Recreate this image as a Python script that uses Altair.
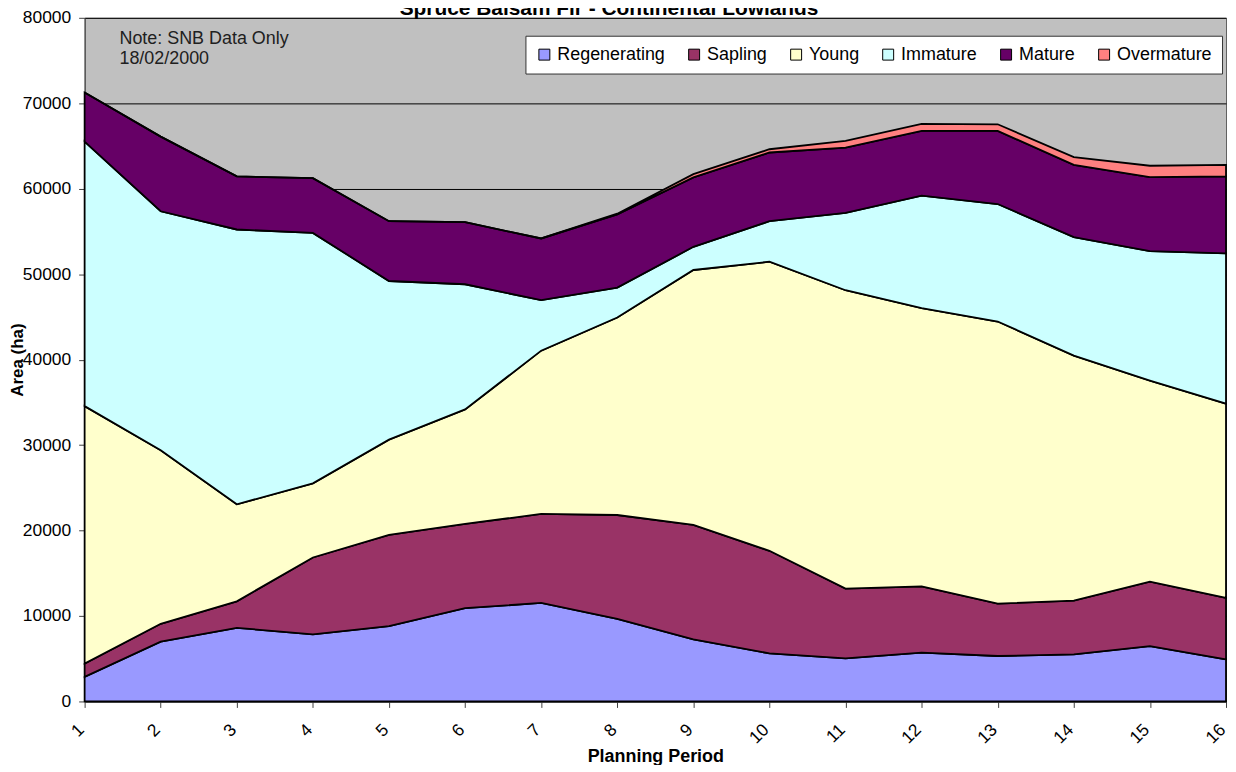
import altair as alt
import pandas as pd

periods = list(range(1, 17))
series_names = ["Regenerating", "Sapling", "Young", "Immature", "Mature", "Overmature"]
series_colors = ["#9999FF", "#993366", "#FFFFCC", "#CCFFFF", "#660066", "#FF8080"]

regenerating = [2870, 6990, 8620, 7840, 8810, 10910, 11530, 9670, 7260, 5630, 5040, 5710, 5320, 5510, 6480, 4930]
sapling = [1560, 2100, 3100, 9010, 10680, 9870, 10410, 12150, 13400, 12000, 8160, 7760, 6130, 6290, 7540, 7190]
young = [30130, 20310, 11350, 8670, 11150, 13390, 19110, 23110, 29830, 33830, 34920, 32550, 33010, 28670, 23530, 22720]
immature = [30960, 27960, 32160, 29310, 18560, 14650, 5910, 3500, 2710, 4740, 9050, 13170, 13750, 13860, 15150, 17590]
mature = [5740, 8740, 6210, 6410, 7000, 7260, 7220, 8550, 8120, 8040, 7650, 7570, 8550, 8470, 8660, 9010]
overmature = [0, 0, 0, 0, 0, 0, 0, 100, 380, 380, 780, 820, 780, 890, 1330, 1360]

y_ticks = list(range(0, 80001, 10000))
title_text = "Spruce Balsam Fir - Continental Lowlands"
note_text = "Note: SNB Data Only\n18/02/2000"

all_series = [regenerating, sapling, young, immature, mature, overmature]
rows = []
for k, (name, vals) in enumerate(zip(series_names, all_series)):
    for p, v in zip(periods, vals):
        rows.append({"period": p, "series": name, "area": v, "k": k})
df = pd.DataFrame(rows)

FONT = "Liberation Sans"
W, H = 1147, 687

areas = alt.Chart(df).mark_area(
    stroke="black", strokeWidth=1.8, fillOpacity=1, interpolate="linear"
).encode(
    x=alt.X(
        "period:Q",
        scale=alt.Scale(domain=[1, 16], nice=False, zero=False),
        axis=alt.Axis(
            values=periods, format="d", title="Planning Period",
            labelAngle=315, labelAlign="right", labelBaseline="alphabetic",
            labelFontSize=17.5, labelPadding=23,
            labelFlush=False, labelOverlap=False,
            tickSize=6, tickColor="#404040", domainColor="#404040",
            grid=False,
            titleFontSize=18, titleFontWeight="bold", titleY=60,
            titleBaseline="alphabetic",
        ),
    ),
    y=alt.Y(
        "area:Q",
        stack="zero",
        scale=alt.Scale(domain=[0, 80000], nice=False),
        axis=alt.Axis(
            values=y_ticks, format="d", title="Area (ha)",
            labelFontSize=17.5, labelPadding=8, labelFlush=False,
            tickSize=6, tickColor="#404040", domainColor="#404040",
            grid=True, gridColor="black", gridWidth=1, gridOpacity=1,
            titleFontSize=17, titleFontWeight="bold",
            titleX=-67, titleY=H / 2, titleBaseline="middle", titleAngle=270,
        ),
    ),
    color=alt.Color(
        "series:N",
        scale=alt.Scale(domain=series_names, range=series_colors),
        sort=series_names,
        legend=alt.Legend(
            title=None, orient="none", legendX=443, legendY=18,
            direction="horizontal", columns=6, columnPadding=19.5,
            labelFontSize=18, labelOffset=4, labelFont=FONT,
            symbolType="square", symbolSize=121,
            symbolStrokeColor="black", symbolStrokeWidth=1, symbolOpacity=1,
            padding=10, fillColor="white", strokeColor="#333333",
        ),
    ),
    order=alt.Order("k:Q", sort="ascending"),
)

title = alt.Chart(pd.DataFrame({"t": [title_text]})).mark_text(
    font=FONT, fontSize=21, fontWeight="bold", align="center", baseline="alphabetic", color="black"
).encode(text="t:N", x=alt.value(527), y=alt.value(-3))

note = alt.Chart(pd.DataFrame({"t": [note_text]})).mark_text(
    font=FONT, fontSize=18, align="left", baseline="alphabetic", color="#202020",
    lineBreak="\n", lineHeight=20.5,
).encode(text="t:N", x=alt.value(35), y=alt.value(26))

chart = alt.layer(areas, note, title).properties(
    width=W, height=H,
    autosize=alt.AutoSizeParams(type="none"),
    padding={"left": 77, "top": 8, "right": 2, "bottom": 62},
    background="white",
).configure(font=FONT).configure_view(
    fill="#C0C0C0", stroke="#606060", strokeWidth=1
).configure_axis(labelFont=FONT, titleFont=FONT, labelColor="black", titleColor="black")

chart.save("out.html", embed_options={"renderer": "svg", "actions": False})
